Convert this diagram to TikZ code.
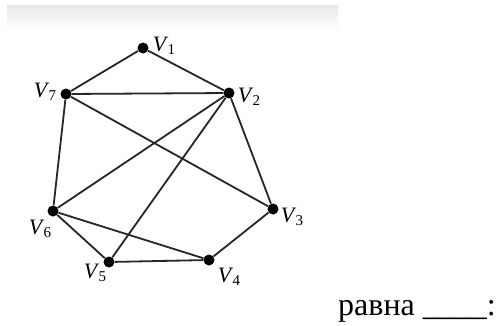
\documentclass[tikz,border=0pt]{standalone}
\usepackage{fontspec}
\setmainfont{Liberation Serif}
\begin{document}
\begin{tikzpicture}[x=1pt,y=-1pt,
  vtx/.style={circle,fill=black,inner sep=0pt,minimum size=11pt},
  edge/.style={line width=1.8pt,black!85},
  vlab/.style={inner sep=0pt,font=\fontsize{22}{22}\selectfont}]
\useasboundingbox (0,0) rectangle (499,325);
\fill[white] (0,0) rectangle (499,325);
\shade[top color=black!9,bottom color=white] (7,5) rectangle (338,30);
\node[vtx] (v1) at (143,48) {};
\node[vtx] (v2) at (229,93) {};
\node[vtx] (v3) at (273,209) {};
\node[vtx] (v4) at (209,260) {};
\node[vtx] (v5) at (109,262) {};
\node[vtx] (v6) at (53,211) {};
\node[vtx] (v7) at (66,94) {};
\draw[edge] (v1) -- (v7);
\draw[edge] (v1) -- (v2);
\draw[edge] (v7) -- (v2);
\draw[edge] (v7) -- (v3);
\draw[edge] (v7) -- (v6);
\draw[edge] (v2) -- (v6);
\draw[edge] (v2) -- (v5);
\draw[edge] (v2) -- (v3);
\draw[edge] (v3) -- (v4);
\draw[edge] (v4) -- (v5);
\draw[edge] (v5) -- (v6);
\draw[edge] (v6) -- (v4);
\newcommand{\vl}[1]{\textit{V}\kern-1pt\raisebox{-0.3ex}{\fontsize{15}{15}\selectfont #1}}
\node[vlab] (l1) at (164,46) {\vl{1}};
\node[vlab] (l2) at (249,97) {\vl{2}};
\node[vlab] (l3) at (292,217) {\vl{3}};
\node[vlab] (l4) at (229,277) {\vl{4}};
\node[vlab] (l5) at (95,273) {\vl{5}};
\node[vlab] (l6) at (40,229) {\vl{6}};
\node[vlab] (l7) at (45,92) {\vl{7}};
\node[anchor=base west,inner sep=0pt,font=\fontsize{32}{32}\selectfont] (txt) at (338,315) {равна \_\_\_\_:};
\end{tikzpicture}
\end{document}
